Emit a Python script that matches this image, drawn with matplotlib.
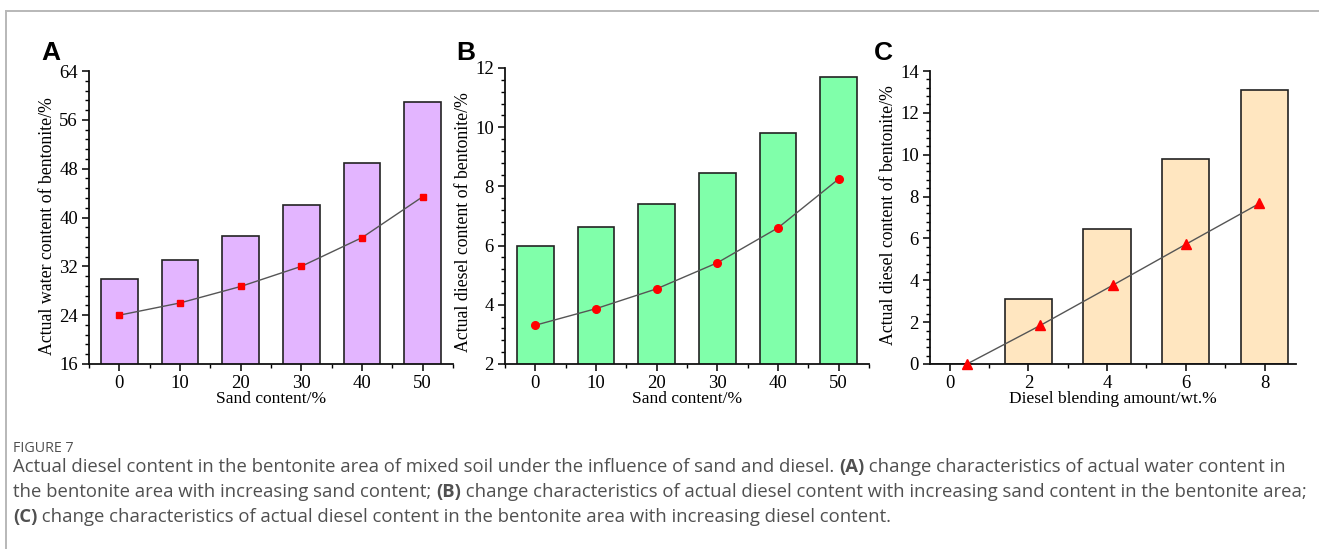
"""Figure 7: actual water / diesel content in the bentonite area."""

import matplotlib

matplotlib.use("Agg")
import matplotlib.pyplot as plt
from matplotlib.lines import Line2D
from matplotlib.ticker import AutoMinorLocator, MultipleLocator

# panel A: water content vs sand content
sand = [0, 10, 20, 30, 40, 50]
water_bar = [30.0, 33.0, 37.0, 42.0, 49.0, 59.0]
water_pt = [24.0, 26.0, 28.7, 32.0, 36.7, 43.4]

# panel B: diesel content vs sand content
diesel_bar_b = [6.0, 6.63, 7.42, 8.44, 9.79, 11.68]
diesel_pt_b = [3.31, 3.87, 4.54, 5.42, 6.60, 8.25]

# panel C: diesel content vs diesel blending amount
blend = [0, 2, 4, 6, 8]
diesel_bar_c = [0.0, 3.11, 6.43, 9.79, 13.11]
blend_pt = [0.44, 2.30, 4.16, 6.01, 7.87]
diesel_pt_c = [0.0, 1.84, 3.78, 5.73, 7.67]

W, H = 1319, 549
SERIF = "Liberation Serif"
CAPTION_GREY = "#505050"

plt.rcParams["font.family"] = [SERIF]


def px_box(left, top, right, bottom):
    return [left / W, 1 - bottom / H, (right - left) / W, (bottom - top) / H]


def style_axes(ax, ymajor, xmajor):
    for side in ("top", "right"):
        ax.spines[side].set_visible(False)
    for side in ("left", "bottom"):
        ax.spines[side].set_linewidth(1.3)
        ax.spines[side].set_color("#111111")
    ax.yaxis.set_major_locator(MultipleLocator(ymajor))
    ax.yaxis.set_minor_locator(AutoMinorLocator(5))
    ax.xaxis.set_major_locator(MultipleLocator(xmajor))
    ax.xaxis.set_minor_locator(AutoMinorLocator(2))
    ax.tick_params(which="major", direction="out", length=5, width=1.1,
                   labelsize=13.5, pad=3)
    ax.tick_params(which="minor", direction="out", length=3, width=1.0)


fig = plt.figure(figsize=(W / 100, H / 100), dpi=100)

# thin grey frame of the figure page
fig.add_artist(Line2D([6 / W, 1], [1 - 11 / H, 1 - 11 / H], color="#b8b8b8", lw=1.4))
fig.add_artist(Line2D([6 / W, 6 / W], [0, 1 - 11 / H], color="#b8b8b8", lw=1.4))

bar_kw = dict(edgecolor="#222222", linewidth=1.2, zorder=2)
line_kw = dict(color="#555555", linewidth=1.0, zorder=3)

# ---- A
ax_a = fig.add_axes(px_box(89, 71, 453, 364))
ax_a.bar(sand, water_bar, width=6, color="#E3B5FF", **bar_kw)
ax_a.plot(sand, water_pt, marker="s", markersize=5, markerfacecolor="#FF0000",
          markeredgecolor="#FF0000", **line_kw)
ax_a.set_xlim(-5, 55)
ax_a.set_ylim(16, 64)
style_axes(ax_a, 8, 10)
ax_a.set_xlabel("Sand content/%", fontsize=12.5, labelpad=-1)
ax_a.set_ylabel("Actual water content of bentonite/%", fontsize=12.8, labelpad=2)
ax_a.yaxis.label.set_y(0.47)

# ---- B
ax_b = fig.add_axes(px_box(505, 68, 869, 364))
ax_b.bar(sand, diesel_bar_b, width=6, color="#80FFAA", **bar_kw)
ax_b.plot(sand, diesel_pt_b, marker="o", markersize=5.5, markerfacecolor="#FF0000",
          markeredgecolor="#FF0000", **line_kw)
ax_b.set_xlim(-5, 55)
ax_b.set_ylim(2, 12)
style_axes(ax_b, 2, 10)
ax_b.set_xlabel("Sand content/%", fontsize=12.5, labelpad=-1)
ax_b.set_ylabel("Actual diesel content of bentonite/%", fontsize=12.8, labelpad=2)
ax_b.yaxis.label.set_y(0.48)

# ---- C
ax_c = fig.add_axes(px_box(930, 71, 1296, 364))
ax_c.bar(blend, diesel_bar_c, width=1.2, color="#FFE6C0", **bar_kw)
ax_c.plot(blend_pt, diesel_pt_c, marker="^", markersize=6.5, markerfacecolor="#FF0000",
          markeredgecolor="#FF0000", clip_on=False, **line_kw)
ax_c.set_xlim(-0.5, 8.8)
ax_c.set_ylim(0, 14)
style_axes(ax_c, 2, 2)
ax_c.set_xlabel("Diesel blending amount/wt.%", fontsize=12.5, labelpad=-1)
ax_c.set_ylabel("Actual diesel content of bentonite/%", fontsize=12.8, labelpad=2)
ax_c.yaxis.label.set_y(0.51)

# panel letters
for letter, x in (("A", 41), ("B", 456), ("C", 874)):
    fig.text(x / W, 1 - 53 / H, letter, fontfamily="Liberation Sans",
             fontweight="bold", fontsize=19, va="center", ha="left")

# caption
fig.text(13 / W, 1 - 448 / H, "FIGURE 7", fontfamily="Open Sans", fontsize=10.3,
         color=CAPTION_GREY, va="center")

caption = [
    [("Actual diesel content in the bentonite area of mixed soil under the influence "
      "of sand and diesel. ", "normal"), ("(A)", "bold"),
     (" change characteristics of actual water content in", "normal")],
    [("the bentonite area with increasing sand content; ", "normal"), ("(B)", "bold"),
     (" change characteristics of actual diesel content with increasing sand content "
      "in the bentonite area;", "normal")],
    [("(C)", "bold"),
     (" change characteristics of actual diesel content in the bentonite area with "
      "increasing diesel content.", "normal")],
]

renderer = fig.canvas.get_renderer()
for row, y in zip(caption, (467, 492, 517)):
    x = 13
    for chunk, weight in row:
        t = fig.text(x / W, 1 - y / H, chunk, fontfamily="Open Sans", fontsize=13.3,
                     fontweight=weight, color=CAPTION_GREY, va="center", ha="left")
        x += t.get_window_extent(renderer).width

fig.savefig("out.png", dpi=100)
